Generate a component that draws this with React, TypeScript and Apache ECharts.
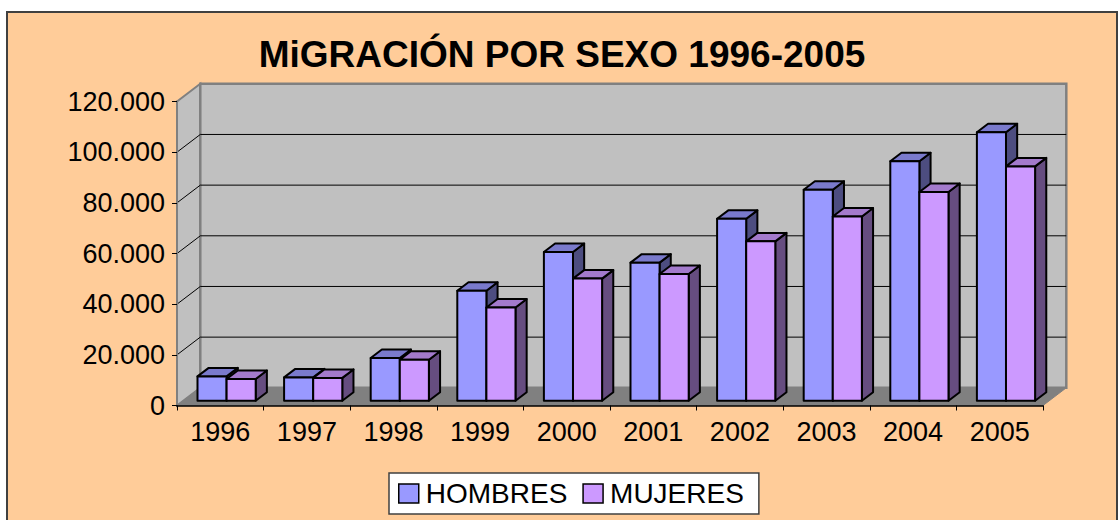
import React, { useEffect, useRef } from "react";
import * as echarts from "echarts";

const years = ["1996", "1997", "1998", "1999", "2000", "2001", "2002", "2003", "2004", "2005"];
const hombres = [9600, 9200, 16850, 43400, 58700, 54500, 71800, 83300, 94500, 106000];
const mujeres = [8600, 9000, 16200, 36800, 48200, 50000, 62900, 72700, 82400, 92500];
const seriesNames = ["HOMBRES", "MUJERES"];
const titleText = "MiGRACIÓN POR SEXO 1996-2005";

const FONT = '"Liberation Sans", Arial, sans-serif';
const DX = 23.3;
const DY = -17.7;
const T0 = 0.27;
const T1 = 0.75;
const GAP = 0.164;
const BARW = 0.336;

const faceColors = [
  { front: "#9999FF", top: "#7A7ACC", side: "#4D4D80" },
  { front: "#CC99FF", top: "#A37ACC", side: "#664D80" },
];

function fmt(v: number) {
  return String(v).replace(/\B(?=(\d{3})+(?!\d))/g, ".");
}

function barRenderer(s: number) {
  return (params: any, api: any) => {
    const i = api.value(0);
    const v = api.value(1);
    const base = api.coord([i, 0]);
    const topP = api.coord([i, v]);
    const bw = api.size([1, 0])[0];
    const xl = base[0] - bw / 2 + bw * GAP + s * bw * BARW + DX * T0;
    const xr = xl + bw * BARW;
    const yb = base[1] + DY * T0;
    const yt = topP[1] + DY * T0;
    const ddx = DX * (T1 - T0);
    const ddy = DY * (T1 - T0);
    const c = faceColors[s];
    const st = (fill: string) => ({ fill, stroke: "#000", lineWidth: 2, lineJoin: "round" });
    return {
      type: "group",
      children: [
        { type: "polygon", shape: { points: [[xr, yt], [xr + ddx, yt + ddy], [xr + ddx, yb + ddy], [xr, yb]] }, style: st(c.side) },
        { type: "polygon", shape: { points: [[xl, yt], [xl + ddx, yt + ddy], [xr + ddx, yt + ddy], [xr, yt]] }, style: st(c.top) },
        { type: "polygon", shape: { points: [[xl, yt], [xr, yt], [xr, yb], [xl, yb]] }, style: st(c.front) },
      ],
    };
  };
}

function wallRenderer(params: any, api: any) {
  const cs = params.coordSys;
  const x0 = cs.x;
  const w = cs.width;
  const yTop = api.coord([0, 120000])[1];
  const yBot = api.coord([0, 0])[1];
  const children: any[] = [
    { type: "polygon", shape: { points: [[x0, yTop], [x0 + DX, yTop + DY], [x0 + DX, yBot + DY], [x0, yBot]] }, style: { fill: "#C0C0C0", stroke: "#808080", lineWidth: 2 } },
    { type: "rect", shape: { x: x0 + DX, y: yTop + DY, width: w, height: yBot - yTop }, style: { fill: "#C0C0C0", stroke: "#808080", lineWidth: 2.5 } },
    { type: "polygon", shape: { points: [[x0, yBot], [x0 + DX, yBot + DY], [x0 + w + DX, yBot + DY], [x0 + w, yBot]] }, style: { fill: "#808080", stroke: "#808080", lineWidth: 1 } },
  ];
  for (let t = 20000; t < 120000; t += 20000) {
    const y = api.coord([0, t])[1];
    children.push({ type: "line", shape: { x1: x0 + DX, y1: y + DY, x2: x0 + w + DX, y2: y + DY }, style: { stroke: "#000", lineWidth: 1 } });
    children.push({ type: "line", shape: { x1: x0, y1: y, x2: x0 + DX, y2: y + DY }, style: { stroke: "#000", lineWidth: 1 } });
  }
  return { type: "group", children };
}

export default function App() {
  const ref = useRef<HTMLDivElement>(null);
  useEffect(() => {
    document.body.style.margin = "0";
    const chart = echarts.init(ref.current!, undefined, { renderer: "svg" });
    chart.setOption({
      animation: false,
      backgroundColor: "#FFFFFF",
      graphic: [
        { type: "rect", z: -100, shape: { x: 7, y: 12, width: 1110, height: 600 }, style: { fill: "#FFCC99", stroke: "#404040", lineWidth: 2 } },
        { type: "text", z: 100, style: { text: titleText, x: 562, y: 54, align: "center", verticalAlign: "middle", fontSize: 37, fontWeight: "bold", fontFamily: FONT, fill: "#000" } },
      ],
      grid: { left: 177, right: 76, top: 101.5, bottom: 114.5 },
      legend: {
        left: 389,
        top: 473,
        orient: "horizontal",
        backgroundColor: "#FFFFFF",
        borderColor: "#404040",
        borderWidth: 1.5,
        borderRadius: 0,
        padding: [6, 15, 6, 9],
        itemGap: 15,
        itemWidth: 20,
        itemHeight: 19,
        icon: "rect",
        textStyle: { fontSize: 28, fontFamily: FONT, color: "#000", lineHeight: 29, padding: [0, 0, 0, 2] },
        data: [
          { name: seriesNames[0], itemStyle: { color: faceColors[0].front, borderColor: "#000", borderWidth: 1.5 } },
          { name: seriesNames[1], itemStyle: { color: faceColors[1].front, borderColor: "#000", borderWidth: 1.5 } },
        ],
      },
      xAxis: {
        type: "category",
        data: years,
        boundaryGap: true,
        z: 5,
        axisLine: { show: true, lineStyle: { color: "#000", width: 1.5 } },
        axisTick: { show: true, length: 5, lineStyle: { color: "#000", width: 1 } },
        axisLabel: { fontSize: 27, fontFamily: FONT, color: "#000", margin: 13 },
        splitLine: { show: false },
      },
      yAxis: {
        type: "value",
        min: 0,
        max: 120000,
        interval: 20000,
        z: 5,
        axisLine: { show: true, lineStyle: { color: "#808080", width: 2 } },
        axisTick: { show: true, length: 5, lineStyle: { color: "#000", width: 1 } },
        axisLabel: { fontSize: 27, fontFamily: FONT, color: "#000", margin: 12, formatter: (v: number) => fmt(v) },
        splitLine: { show: false },
      },
      series: [
        { type: "custom", name: "walls", z: 1, silent: true, renderItem: wallRenderer, data: [[0, 0]], encode: { x: 0, y: 1 } },
        { type: "custom", name: seriesNames[0], z: 2, itemStyle: { color: faceColors[0].front }, renderItem: barRenderer(0), data: hombres.map((v, i) => [i, v]), encode: { x: 0, y: 1 } },
        { type: "custom", name: seriesNames[1], z: 3, itemStyle: { color: faceColors[1].front }, renderItem: barRenderer(1), data: mujeres.map((v, i) => [i, v]), encode: { x: 0, y: 1 } },
      ],
    });
    return () => chart.dispose();
  }, []);
  return <div ref={ref} style={{ width: 1119, height: 520 }} />;
}
